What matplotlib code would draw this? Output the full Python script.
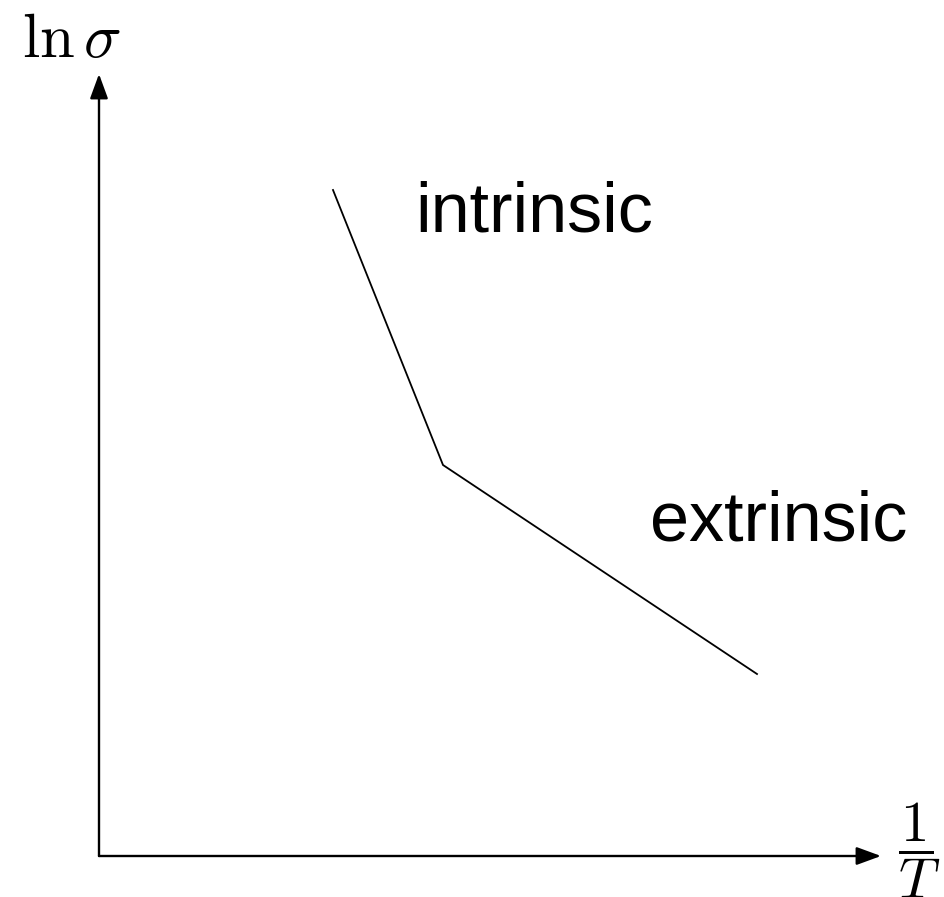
import matplotlib
matplotlib.use("Agg")
import matplotlib.pyplot as plt

# Schematic conductivity vs inverse temperature (arbitrary units)
inv_T = [234, 344, 658]
ln_sigma = [666, 391, 182]
region_labels = ["intrinsic", "extrinsic"]
label_pos = [(316, 625), (551, 316)]
axis_end = 782

plt.rcParams["mathtext.fontset"] = "cm"

fig = plt.figure(figsize=(9.44, 8.97), dpi=100)
ax = fig.add_axes([0, 0, 1, 1])
ax.set_xlim(-99, 845)
ax.set_ylim(-41, 856)
ax.axis("off")

arrow = dict(arrowstyle="-|>,head_length=1.5,head_width=0.55", mutation_scale=10,
             lw=1.7, color="black", shrinkA=0, shrinkB=0)
ax.annotate("", xy=(axis_end, 0), xytext=(0, 0), arrowprops=arrow)
ax.annotate("", xy=(0, axis_end), xytext=(0, 0), arrowprops=arrow)

ax.plot(inv_T, ln_sigma, color="black", lw=1.3, solid_joinstyle="miter")

for text, (x, y) in zip(region_labels, label_pos):
    ax.text(x, y, text, fontsize=50.5, family="Liberation Sans",
            ha="left", va="baseline")

ax.text(-77, 799, r"$\ln\sigma$", fontsize=45, ha="left", va="baseline")
ax.text(820, 6, r"$\dfrac{1}{T}$", fontsize=41, ha="center", va="center")

fig.savefig("out.png", dpi=100)
